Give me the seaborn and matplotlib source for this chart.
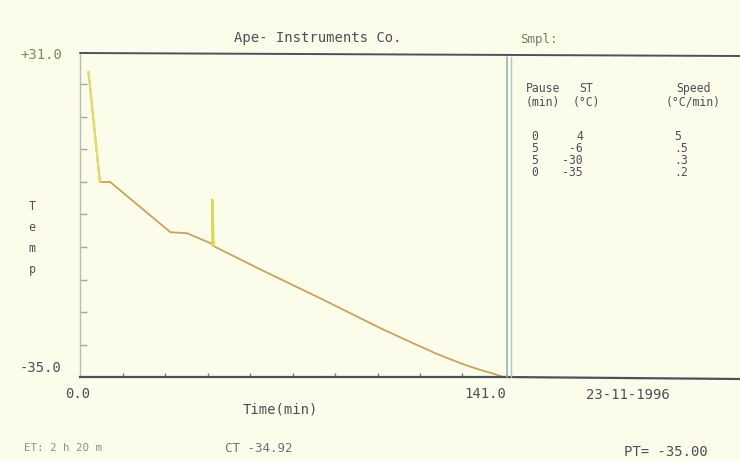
import numpy as np
import pandas as pd
import matplotlib
matplotlib.use("Agg")
import matplotlib.pyplot as plt
from matplotlib.lines import Line2D
import seaborn as sns

# ---- data ----
time_min = [2.8, 4.5, 6.6, 10.0, 20.0, 30.0, 35.5, 43.2, 44.9, 60.0, 80.0, 99.7, 110.0, 118.0, 122.0, 128.0, 133.0, 137.0, 140.5]
temp_c = [27.0, 17.0, 4.6, 4.6, -0.5, -5.6, -5.8, -7.8, -8.6, -13.2, -19.1, -25.1, -28.0, -30.2, -31.2, -32.6, -33.6, -34.3, -35.0]
spike_t = [43.9, 43.9, 44.3]
spike_T = [-8.2, 1.0, -8.4]
drop_t = [2.8, 4.5, 6.6]
drop_T = [27.0, 17.0, 4.6]

x_min, x_max = 0.0, 141.0
y_min, y_max = -35.0, 31.0

prog_headers = ["Pause\n(min)", "ST\n(°C)", "Speed\n(°C/min)"]
prog_pause = ["0", "5", "5", "0"]
prog_st = ["4", "-6", "-30", "-35"]
prog_speed = ["5", ".5", ".3", ".2"]

# ---- style ----
sns.set_theme(style="white")
plt.rcParams['font.family'] = ['DejaVu Sans Mono', 'DejaVu Sans']
BG = "#fcfcea"
TXT = "#4a5059"
LINE = "#4a525c"

W, H = 740, 461
fig = plt.figure(figsize=(W / 100, H / 100), dpi=100, facecolor=BG)

def fx(px):
    return px / W

def fy(py):
    return 1 - py / H

ax = fig.add_axes([fx(80), fy(377), fx(505) - fx(80), fy(52) - fy(377)])
ax.set_facecolor(BG)

df = pd.DataFrame({"t": time_min, "T": temp_c})
sns.lineplot(data=df, x="t", y="T", ax=ax, color="#c9a25e", lw=1.3,
             sort=False, estimator=None)
sns.lineplot(x=drop_t, y=drop_T, ax=ax, color="#e3dc6a", lw=1.6,
             sort=False, estimator=None)
sns.lineplot(x=spike_t, y=spike_T, ax=ax, color="#d8d85c", lw=1.8,
             sort=False, estimator=None)

ax.set_xlim(x_min, x_max)
ax.set_ylim(y_min, y_max)
ax.set_xlabel("")
ax.set_ylabel("")
for s in ["top", "right"]:
    ax.spines[s].set_visible(False)
ax.spines["left"].set_color("#b9bcb2")
ax.spines["left"].set_linewidth(1.0)
ax.spines["bottom"].set_color(LINE)
ax.spines["bottom"].set_linewidth(1.6)

ax.set_yticks(np.linspace(y_min, y_max, 11)[1:-1])
ax.set_yticklabels([])
ax.set_xticks(np.linspace(x_min, x_max, 11)[1:-1])
ax.set_xticklabels([])
ax.tick_params(axis="y", direction="in", length=5, width=1, color="#a4a8a0", left=True)
ax.tick_params(axis="x", direction="in", length=3, width=1, color="#7a8088", bottom=True)

# frame lines of the screen
fig.add_artist(Line2D([fx(80), fx(740)], [fy(53), fy(56)], color=LINE, lw=1.4))
fig.add_artist(Line2D([fx(505), fx(740)], [fy(377), fy(379)], color=LINE, lw=1.6))
fig.add_artist(Line2D([fx(507), fx(507)], [fy(57), fy(377)], color="#8fb3bb", lw=1.2))
fig.add_artist(Line2D([fx(511), fx(511)], [fy(57), fy(377)], color="#a9c6c9", lw=1.0))

fb = 10.0   # big screen font
fsm = 8.3   # small screen font
# texts
fig.text(fx(318), fy(38), "Ape- Instruments Co.", ha="center", va="center", fontsize=fb, color=TXT)
fig.text(fx(520), fy(40), "Smpl:", ha="left", va="center", fontsize=fb * 0.9, color="#6f8060")
fig.text(fx(62), fy(55), "+31.0", ha="right", va="center", fontsize=fb, color="#7b8a56")
fig.text(fx(62), fy(368), "-35.0", ha="right", va="center", fontsize=fb, color=TXT)
fig.text(fx(65), fy(394), "0.0", ha="left", va="center", fontsize=fb, color=TXT)
fig.text(fx(506), fy(394), "141.0", ha="right", va="center", fontsize=fb, color=TXT)
fig.text(fx(280), fy(409), "Time(min)", ha="center", va="center", fontsize=fb, color=TXT)
fig.text(fx(628), fy(395), "23-11-1996", ha="center", va="center", fontsize=fb, color=TXT)
fig.text(fx(24), fy(448), "ET: 2 h 20 m", ha="left", va="center", fontsize=7.8, color="#8c9088")
fig.text(fx(225), fy(448), "CT -34.92", ha="left", va="center", fontsize=fb * 0.9, color="#6c7278")
fig.text(fx(624), fy(452), "PT= -35.00", ha="left", va="center", fontsize=fb, color=TXT)
fig.text(fx(32), fy(238), "T\ne\nm\np", ha="center", va="center", fontsize=fsm,
         color=TXT, linespacing=1.8)

# program table
for hx, htxt in zip([543, 586, 693], prog_headers):
    fig.text(fx(hx), fy(95.5), htxt, ha="center", va="center", fontsize=fsm,
             color=TXT, linespacing=1.05)
rows_y = [136, 148, 160, 172]
for yy, p, st, sp in zip(rows_y, prog_pause, prog_st, prog_speed):
    fig.text(fx(531), fy(yy), p, ha="left", va="center", fontsize=fsm, color=TXT)
    fig.text(fx(583), fy(yy), st, ha="right", va="center", fontsize=fsm, color=TXT)
    fig.text(fx(674), fy(yy), sp, ha="left", va="center", fontsize=fsm, color=TXT)

fig.savefig("out.png", dpi=100, facecolor=BG)
